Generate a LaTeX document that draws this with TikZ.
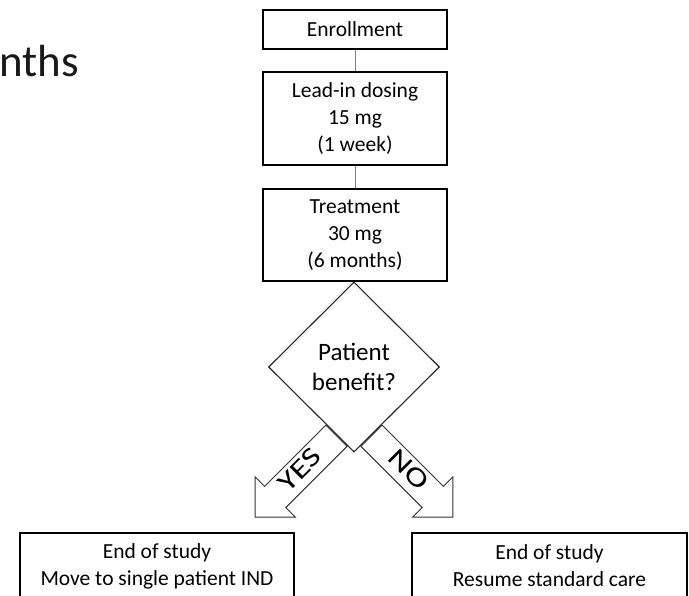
\documentclass[tikz,border=0pt]{standalone}
\usepackage{fontspec}
\setmainfont{Carlito}
\usetikzlibrary{shapes.geometric,shapes.arrows,calc}
\begin{document}
\begin{tikzpicture}[x=1pt,y=-1pt,
  stepbox/.style={draw=black,line width=1.4pt,rectangle,inner sep=0pt,align=center,
    text=black,font=\fontsize{21.5}{27}\selectfont},
  link/.style={draw=black!50,line width=0.9pt},
  decision/.style={draw=black!85,line width=1.1pt,diamond,inner sep=0pt,
    minimum width=171pt,minimum height=170pt,align=center,
    font=\fontsize{25}{30}\selectfont,text=black},
  blockarrow/.style={single arrow,draw=black!80,line width=0.9pt,fill=white,
    inner sep=0pt,text height=21pt,text depth=8pt,minimum height=115pt,
    single arrow head extend=13.5pt,single arrow tip angle=90,
    font=\fontsize{27}{27}\selectfont,text=black}]
\useasboundingbox (0,0) rectangle (689,596);
\node[anchor=base west,inner sep=0pt,font=\fontsize{45}{45}\selectfont,text=black!90] (title) at (-1,77) {nths};
\node[stepbox,minimum width=184pt,minimum height=39pt] (enroll) at (355,29.5) {Enrollment};
\node[stepbox,minimum width=184pt,minimum height=93pt] (lead) at (355,118.5) {Lead-in dosing\\15 mg\\(1 week)};
\node[stepbox,minimum width=184pt,minimum height=92pt] (treat) at (355,235) {Treatment\\30 mg\\(6 months)};
\node[decision] (dia) at (354,367) {Patient\\benefit?};
\draw[link] (enroll.south) -- (lead.north);
\draw[link] (lead.south) -- (treat.north);
\coordinate (ys) at ($(dia.south west)!0.6!(dia.south)$);
\coordinate (ns) at ($(dia.south east)!0.6!(dia.south)$);
\node[blockarrow,shape border rotate=180,rotate=45,anchor=tail] (yes) at (ys) {\scalebox{1.3}[1]{YES}};
\node[blockarrow,rotate=-45,anchor=tail] (no) at (ns) {\scalebox{1.3}[1]{NO}};
\node[stepbox,minimum width=274pt,minimum height=66pt] (endyes) at (157,566) {End of study\\Move to single patient IND};
\node[stepbox,minimum width=275pt,minimum height=66pt] (endno) at (549.5,566) {End of study\\Resume standard care};
\end{tikzpicture}
\end{document}
